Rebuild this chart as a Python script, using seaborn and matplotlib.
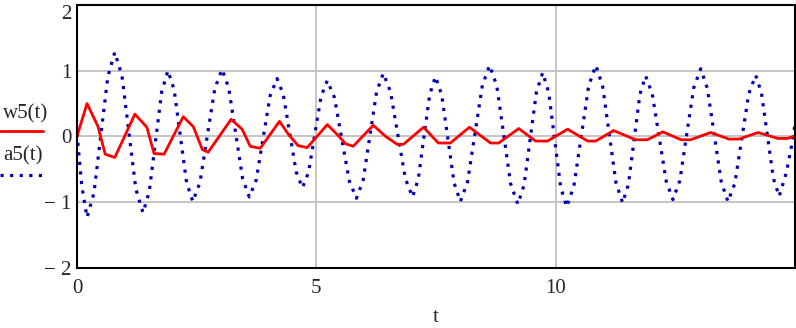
import numpy as np
import pandas as pd
import matplotlib
matplotlib.use("Agg")
import matplotlib.pyplot as plt
from matplotlib.lines import Line2D
import seaborn as sns

# values
t_w = [0, 0.21, 0.44, 0.59, 0.79, 1.21, 1.46, 1.61, 1.82, 2.22, 2.43, 2.62, 2.74,
       3.22, 3.45, 3.62, 3.83, 4.23, 4.42, 4.62, 4.81, 5.23, 5.45, 5.61, 5.77,
       6.19, 6.45, 6.69, 6.82, 7.24, 7.55, 7.80, 8.20, 8.64, 8.81, 9.23, 9.58,
       9.83, 10.25, 10.67, 10.84, 11.21, 11.67, 11.92, 12.24, 12.62, 12.82,
       13.24, 13.62, 13.83, 14.23, 14.64, 14.85, 15.0]
w5 = [0, 0.50, 0.15, -0.27, -0.32, 0.34, 0.14, -0.26, -0.27, 0.30, 0.15, -0.20, -0.24,
      0.26, 0.11, -0.15, -0.18, 0.23, 0.03, -0.14, -0.17, 0.18, 0.02, -0.11, -0.15,
      0.17, 0.0, -0.12, -0.12, 0.14, -0.10, -0.10, 0.14, -0.10, -0.10, 0.12, -0.07,
      -0.07, 0.11, -0.07, -0.07, 0.09, -0.05, -0.05, 0.07, -0.05, -0.05,
      0.06, -0.04, -0.04, 0.06, -0.03, -0.03, 0.01]

t_a = [0, 0.10, 0.21, 0.355, 0.50, 0.645, 0.79, 0.94, 1.085, 1.23, 1.38, 1.51, 1.64,
       1.77, 1.90, 2.03, 2.16, 2.29, 2.42, 2.57, 2.725, 2.88, 3.03, 3.17, 3.315,
       3.46, 3.60, 3.745, 3.89, 4.035, 4.18, 4.31, 4.445, 4.58, 4.71, 4.84, 4.97,
       5.10, 5.23, 5.38, 5.535, 5.69, 5.84, 5.98, 6.12, 6.26, 6.40, 6.55, 6.705,
       6.86, 7.01, 7.13, 7.25, 7.37, 7.49, 7.62, 7.75, 7.88, 8.01, 8.16, 8.315,
       8.47, 8.62, 8.77, 8.915, 9.06, 9.21, 9.34, 9.47, 9.60, 9.73, 9.855, 9.98,
       10.105, 10.23, 10.38, 10.535, 10.69, 10.84, 10.98, 11.12, 11.26, 11.40,
       11.52, 11.64, 11.76, 11.88, 12.02, 12.165, 12.31, 12.45, 12.595, 12.74,
       12.885, 13.03, 13.17, 13.315, 13.46, 13.60, 13.745, 13.89, 14.035, 14.18,
       14.30, 14.425, 14.55, 14.67, 14.82, 14.94, 15.0]
a5 = [0.05, -0.75, -1.23, -0.86, 0.03, 0.91, 1.28, 0.92, 0.06, -0.80, -1.16, -0.84, -0.08,
      0.68, 1.00, 0.71, 0.0, -0.70, -0.99, -0.70, 0.02, 0.73, 1.02, 0.74, 0.05,
      -0.64, -0.92, -0.66, -0.02, 0.62, 0.88, 0.64, 0.05, -0.54, -0.78, -0.54, 0.04,
      0.61, 0.85, 0.59, -0.05, -0.68, -0.94, -0.66, 0.01, 0.68, 0.96, 0.68, 0.02,
      -0.64, -0.92, -0.65, 0.0, 0.64, 0.91, 0.63, -0.04, -0.71, -0.99, -0.69, 0.05,
      0.78, 1.08, 0.77, 0.03, -0.72, -1.03, -0.74, -0.03, 0.68, 0.97, 0.67, -0.05,
      -0.77, -1.07, -0.76, 0.0, 0.77, 1.08, 0.77, 0.04, -0.70, -1.01,
      -0.73, -0.05, 0.64, 0.92, 0.64, -0.02, -0.68, -0.96, -0.67, 0.04,
      0.74, 1.03, 0.73, 0.02, -0.69, -0.99, -0.71, -0.03, 0.65, 0.93,
      0.66, 0.01, -0.64, -0.91, -0.55, -0.10, 0.18]

x_ticks = [0, 5, 10]
y_ticks = [-2, -1, 0, 1, 2]
y_labels = ["\u2212 2", "\u2212 1", "0", "1", "2"]

sns.set_style("white")
plt.rcParams['font.family'] = ['Liberation Serif', 'DejaVu Serif']

fig = plt.figure(figsize=(7.96, 3.28), dpi=100)
ax = fig.add_axes([0.0967, 0.183, 0.902, 0.802])

for v in [5, 10]:
    ax.axvline(v, color="#c0c0c0", lw=1.3, zorder=0)
for v in [-1, 0, 1]:
    ax.axhline(v, color="#c0c0c0", lw=1.3, zorder=0)

sns.lineplot(x=t_a, y=a5, ax=ax, color="#0000b4", lw=2.3, sort=False,
             linestyle=(0, (1, 2.0)))
sns.lineplot(x=t_w, y=w5, ax=ax, color="#ff0000", lw=2.0, sort=False)

ax.set_xlim(0, 15)
ax.set_ylim(-2, 2)
ax.set_xticks(x_ticks)
ax.set_xticklabels([str(v) for v in x_ticks], fontsize=15)
ax.set_yticks(y_ticks)
ax.set_yticklabels(y_labels, fontsize=15)
# top label sits just under the figure edge, as in the reference
ax.get_yticklabels()[-1].set_verticalalignment("top")
ax.tick_params(length=0)
ax.tick_params(axis="x", pad=8)
ax.tick_params(axis="y", pad=4)
for s in ax.spines.values():
    s.set_color("black")
    s.set_linewidth(1.5)
ax.set_xlabel("t", fontsize=15, labelpad=7)

# legend at the left side, Mathcad style
fig.text(0.004, 0.652, "w5(t)", fontsize=15, va="center", ha="left")
fig.add_artist(Line2D([0.0, 0.054], [0.60, 0.60], color="#ff0000", lw=2.0,
                      transform=fig.transFigure))
fig.text(0.004, 0.524, "a5(t)", fontsize=15, va="center", ha="left")
fig.add_artist(Line2D([0.0, 0.054], [0.466, 0.466], color="#0000b4", lw=2.3,
                      linestyle=(0, (1, 2.0)), transform=fig.transFigure))

fig.savefig("out.png", dpi=100)
